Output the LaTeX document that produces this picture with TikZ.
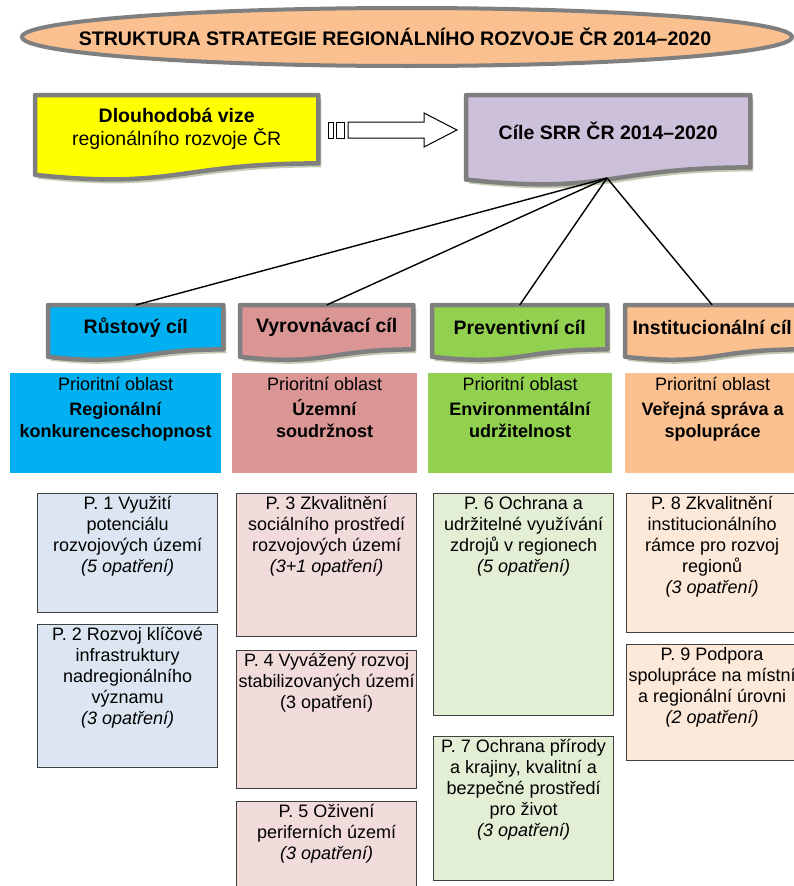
\documentclass[tikz,border=0pt]{standalone}
\usepackage{fontspec}
\setmainfont{Liberation Sans}
\usetikzlibrary{calc,backgrounds,shapes.geometric}

\definecolor{framegray}{HTML}{7F7F7F}
\definecolor{shadowgreen}{HTML}{C3CBB2}
\definecolor{titlepeach}{HTML}{FAC090}
\definecolor{visionyellow}{HTML}{FFFF00}
\definecolor{goallilac}{HTML}{CCC0DA}
\definecolor{growthblue}{HTML}{00B0F0}
\definecolor{balancerose}{HTML}{DA9694}
\definecolor{preventgreen}{HTML}{92D050}
\definecolor{instpeach}{HTML}{FAC090}
\definecolor{pblue}{HTML}{DCE6F2}
\definecolor{prose}{HTML}{F2DCDB}
\definecolor{pgreen}{HTML}{E2EFD5}
\definecolor{ppeach}{HTML}{FDE9D9}
\definecolor{pframe}{HTML}{404040}

% outline of a document-shaped node (wavy bottom)
\def\docpath#1{(#1.north west) -- (#1.north east) -- (#1.south east)
  .. controls (#1.south) and ($(#1.north)!1.384!(#1.south)$)
  .. ($(#1.north west)!1.1675!(#1.south west)$) -- cycle}

\tikzset{
  docline/.style={draw=framegray, line width=4.5pt, line join=round},
  docnode/.style={anchor=north west, inner sep=0pt, align=center,
    font=\bfseries\fontsize{19.5}{23}\selectfont},
  areabox/.style={anchor=north west, inner sep=0pt, minimum height=100},
  areatext/.style={anchor=north, yshift=-4pt, align=center, inner sep=0pt,
    font=\fontsize{18}{22}\selectfont},
  pbox/.style={anchor=north west, draw=pframe, line width=1.2pt, inner sep=0pt},
  ptext/.style={anchor=north, yshift=-3pt, align=center, inner sep=0pt,
    font=\fontsize{18}{21}\selectfont},
  link/.style={draw=black, line width=1.4pt},
  blockline/.style={draw=black, line width=1pt, fill=white}
}

\begin{document}
\begin{tikzpicture}[x=1pt, y=-1pt]
  \useasboundingbox (0,0) rectangle (793,886);

  % title
  \node[ellipse, draw=framegray, line width=4pt, fill=titlepeach,
    minimum width=770, minimum height=58] (title) at (407,37) {};
  \node[font=\bfseries\fontsize{19.6}{23}\selectfont] (titletext) at (395,37)
    {STRUKTURA STRATEGIE REGIONÁLNÍHO ROZVOJE ČR 2014–2020};

  % vision and goals
  \node[docnode, minimum width=283, minimum height=68] (vision) at (35,95)
    {Dlouhodobá vize\\\mdseries regionálního rozvoje ČR};
  \node[docnode, minimum width=284, minimum height=72] (cile) at (466,95)
    {Cíle SRR ČR 2014–2020};

  % the four goals
  \node[docnode, minimum width=175, minimum height=44] (rust) at (48,305) {Růstový cíl};
  \node[docnode, minimum width=173, minimum height=44] (vyrov) at (240,305) {Vyrovnávací cíl};
  \node[docnode, minimum width=175, minimum height=44] (prevent) at (432,305) {Preventivní cíl};
  \node[docnode, minimum width=174, minimum height=44] (inst) at (625,305) {Institucionální cíl};

  \begin{scope}[on background layer]
    \foreach \n/\c in {vision/visionyellow, cile/goallilac, rust/growthblue,
      vyrov/balancerose, prevent/preventgreen, inst/instpeach} {
      \fill[shadowgreen, transform canvas={shift={(3pt,-4pt)}}] \docpath{\n};
      \draw[docline, fill=\c] \docpath{\n};
    }
  \end{scope}

  % block arrow
  \draw[blockline] (328,122) rectangle (333,138);
  \draw[blockline] (336,122) rectangle (344,138);
  \draw[blockline] (348,122) -- (424,122) -- (424,113) -- (457,130)
    -- (424,147) -- (424,138) -- (348,138) -- cycle;

  % links from the goals box
  \coordinate (hub) at (607,178);
  \foreach \g in {rust,vyrov,prevent,inst}
    \draw[link] (hub) -- (\g.north);

  % priority areas
  \node[areabox, fill=growthblue, minimum width=211,
    label={[areatext]north:{Prioritní oblast\\[3pt]\textbf{Regionální}\\\textbf{konkurenceschopnost}}}]
    (area1) at (10,373) {};
  \node[areabox, fill=balancerose, minimum width=185,
    label={[areatext]north:{Prioritní oblast\\[3pt]\textbf{Územní}\\\textbf{soudržnost}}}]
    (area2) at (232,373) {};
  \node[areabox, fill=preventgreen, minimum width=184,
    label={[areatext]north:{Prioritní oblast\\[3pt]\textbf{Environmentální}\\\textbf{udržitelnost}}}]
    (area3) at (428,373) {};
  \node[areabox, fill=instpeach, minimum width=175,
    label={[areatext]north:{Prioritní oblast\\[3pt]\textbf{Veřejná správa a}\\\textbf{spolupráce}}}]
    (area4) at (625,373) {};

  % priorities
  \node[pbox, fill=pblue, minimum width=180, minimum height=119,
    label={[ptext]north:{P. 1 Využití\\potenciálu\\rozvojových území\\\textit{(5 opatření)}}}]
    (p1) at (37,493) {};
  \node[pbox, fill=pblue, minimum width=180, minimum height=143,
    label={[ptext]north:{P. 2 Rozvoj klíčové\\infrastruktury\\nadregionálního\\významu\\\textit{(3 opatření)}}}]
    (p2) at (37,624) {};
  \node[pbox, fill=prose, minimum width=180, minimum height=143,
    label={[ptext]north:{P. 3 Zkvalitnění\\sociálního prostředí\\rozvojových území\\\textit{(3+1 opatření)}}}]
    (p3) at (236,493) {};
  \node[pbox, fill=prose, minimum width=180, minimum height=138,
    label={[ptext]north:{P. 4 Vyvážený rozvoj\\stabilizovaných území\\(3 opatření)}}]
    (p4) at (236,650) {};
  \node[pbox, fill=prose, minimum width=180, minimum height=99,
    label={[ptext]north:{P. 5 Oživení\\periferních území\\\textit{(3 opatření)}}}]
    (p5) at (236,801) {};
  \node[pbox, fill=pgreen, minimum width=180, minimum height=222,
    label={[ptext]north:{P. 6 Ochrana a\\udržitelné využívání\\zdrojů v regionech\\\textit{(5 opatření)}}}]
    (p6) at (433,493) {};
  \node[pbox, fill=pgreen, minimum width=180, minimum height=144,
    label={[ptext]north:{P. 7 Ochrana přírody\\a krajiny, kvalitní a\\bezpečné prostředí\\pro život\\\textit{(3 opatření)}}}]
    (p7) at (433,736) {};
  \node[pbox, fill=ppeach, minimum width=171, minimum height=139,
    label={[ptext]north:{P. 8 Zkvalitnění\\institucionálního\\rámce pro rozvoj\\regionů\\\textit{(3 opatření)}}}]
    (p8) at (626,493) {};
  \node[pbox, fill=ppeach, minimum width=171, minimum height=116,
    label={[ptext]north:{P. 9 Podpora\\spolupráce na místní\\a regionální úrovni\\\textit{(2 opatření)}}}]
    (p9) at (626,644) {};
\end{tikzpicture}
\end{document}
